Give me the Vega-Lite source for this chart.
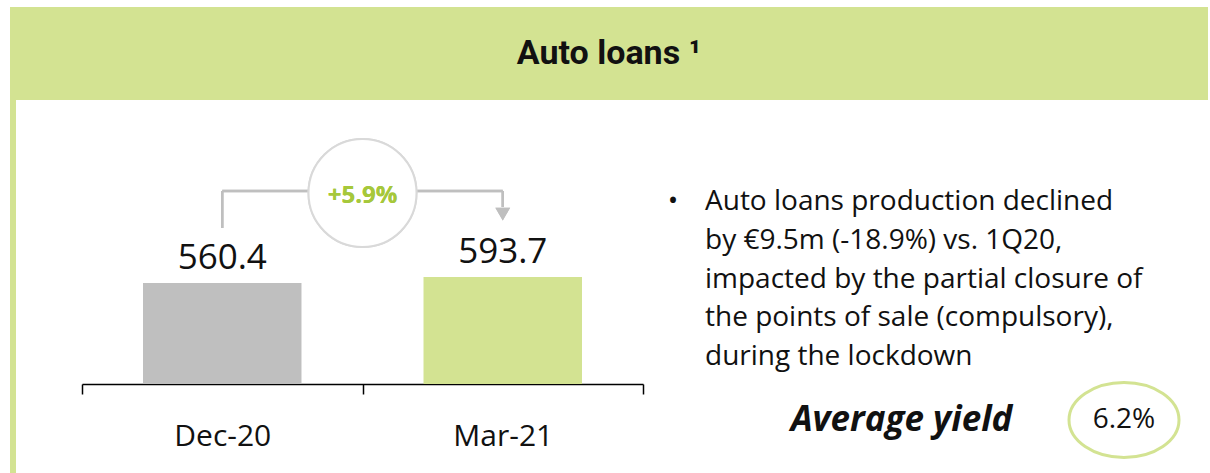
{
  "$schema": "https://vega.github.io/schema/vega-lite/v6.json",
  "background": "white",
  "padding": {"left": 10, "top": 7, "right": 0, "bottom": 0},
  "bounds": "flush",
  "spacing": 0,
  "config": {"view": {"stroke": null}, "font": "Open Sans", "text": {"color": "#111111"}},
  "vconcat": [
    {
      "width": 1198,
      "height": 93,
      "view": {"fill": "#d3e392", "stroke": null},
      "data": {"values": [{"title": "Auto loans ¹"}]},
      "mark": {"type": "text", "font": "Roboto", "fontWeight": "bold", "fontSize": 34, "baseline": "middle", "align": "center", "color": "#111111"},
      "encoding": {"text": {"field": "title"}}
    },
    {
      "hconcat": [
        {
          "width": 6,
          "height": 373,
          "view": {"fill": "#d3e392", "stroke": null},
          "data": {"values": [{}]},
          "mark": {"type": "text", "text": ""},
          "encoding": {}
        },
        {
          "hconcat": [
            {
              "width": 561,
              "height": 284,
              "data": {"values": [
                {"period": "Dec-20", "value": 560.4},
                {"period": "Mar-21", "value": 593.7}
              ]},
              "layer": [
                {
                  "mark": {"type": "bar", "width": {"band": 0.565}},
                  "encoding": {
                    "x": {
                      "field": "period", "type": "nominal", "sort": null,
                      "scale": {"paddingInner": 0, "paddingOuter": 0},
                      "axis": {
                        "title": null, "labelAngle": 0, "labelFontSize": 30, "labelColor": "#111111", "labelFont": "Open Sans",
                        "domainColor": "#000000", "domainWidth": 1.5, "tickColor": "#000000", "tickWidth": 1.5, "tickSize": 10,
                        "tickBand": "extent", "labelPadding": 51, "labelBaseline": "alphabetic", "grid": false
                      }
                    },
                    "y": {"field": "value", "type": "quantitative", "scale": {"domain": [0, 1576], "nice": false}, "axis": null},
                    "color": {"field": "period", "type": "nominal", "sort": null, "scale": {"range": ["#bfbfbf", "#d3e392"]}, "legend": null}
                  }
                },
                {
                  "mark": {"type": "text", "fontSize": 35, "baseline": "alphabetic", "align": "center", "dy": -14, "color": "#111111"},
                  "encoding": {
                    "x": {"field": "period", "type": "nominal", "sort": null},
                    "y": {"field": "value", "type": "quantitative", "scale": {"domain": [0, 1576], "nice": false}, "axis": null},
                    "text": {"field": "value", "type": "quantitative", "format": ".1f"}
                  }
                },
                {
                  "mark": {"type": "rule", "color": "#bfbfbf", "strokeWidth": 2.5},
                  "encoding": {
                    "x": {"datum": "Dec-20", "type": "nominal"},
                    "y": {"datum": 866, "type": "quantitative", "scale": {"domain": [0, 1576], "nice": false}, "axis": null},
                    "y2": {"datum": 1071}
                  }
                },
                {
                  "mark": {"type": "rule", "color": "#bfbfbf", "strokeWidth": 2.5},
                  "encoding": {
                    "x": {"datum": "Dec-20", "type": "nominal"},
                    "x2": {"datum": "Mar-21"},
                    "y": {"datum": 1071, "type": "quantitative", "scale": {"domain": [0, 1576], "nice": false}, "axis": null}
                  }
                },
                {
                  "mark": {"type": "rule", "color": "#bfbfbf", "strokeWidth": 2.5},
                  "encoding": {
                    "x": {"datum": "Mar-21", "type": "nominal"},
                    "y": {"datum": 1071, "type": "quantitative", "scale": {"domain": [0, 1576], "nice": false}, "axis": null},
                    "y2": {"datum": 982}
                  }
                },
                {
                  "mark": {"type": "point", "shape": "triangle-down", "size": 220, "filled": true, "color": "#bfbfbf", "opacity": 1},
                  "encoding": {
                    "x": {"datum": "Mar-21", "type": "nominal"},
                    "y": {"datum": 943, "type": "quantitative", "scale": {"domain": [0, 1576], "nice": false}, "axis": null}
                  }
                },
                {
                  "mark": {"type": "point", "shape": "circle", "size": 11664, "filled": false, "fill": "white", "stroke": "#d9d9d9", "strokeWidth": 2, "opacity": 1},
                  "encoding": {
                    "x": {"datum": "Mar-21", "type": "nominal", "bandPosition": 0},
                    "y": {"datum": 1060, "type": "quantitative", "scale": {"domain": [0, 1576], "nice": false}, "axis": null}
                  }
                },
                {
                  "mark": {"type": "text", "text": "+5.9%", "fontSize": 24, "fontWeight": "bold", "color": "#a6c83b", "baseline": "middle", "align": "center"},
                  "encoding": {
                    "x": {"datum": "Mar-21", "type": "nominal", "bandPosition": 0},
                    "y": {"datum": 1043, "type": "quantitative", "scale": {"domain": [0, 1576], "nice": false}, "axis": null}
                  }
                }
              ]
            },
            {
              "hconcat": [
                {
                  "width": 40,
                  "height": 220,
                  "data": {"values": [{}]},
                  "mark": {"type": "text", "text": "•", "fontSize": 28, "baseline": "alphabetic", "align": "center", "color": "#111111"},
                  "encoding": {}
                },
                {
                  "vconcat": [
                    {
                      "width": 24,
                      "height": 220,
                      "data": {"values": [{}]},
                      "mark": {
                        "type": "text",
                        "text": [
                          "Auto loans production declined",
                          "by €9.5m (-18.9%) vs. 1Q20,",
                          "impacted by the partial closure of",
                          "the points of sale (compulsory),",
                          "during the lockdown"
                        ],
                        "fontSize": 28, "baseline": "alphabetic", "align": "left", "lineHeight": 38.8, "color": "#111111"
                      },
                      "encoding": {}
                    },
                    {
                      "hconcat": [
                        {
                          "width": 417,
                          "height": 106,
                          "data": {"values": [{}]},
                          "mark": {"type": "text", "text": "Average yield", "fontSize": 35, "fontWeight": "bold", "fontStyle": "italic", "baseline": "middle", "align": "center", "color": "#111111"},
                          "encoding": {}
                        },
                        {
                          "width": 28,
                          "height": 106,
                          "data": {"values": [{"yield": "6.2%"}]},
                          "layer": [
                            {
                              "mark": {"type": "point", "shape": "M-1,0A1,0.68 0 1,1 1,0A1,0.68 0 1,1 -1,0Z", "size": 12100, "filled": false, "stroke": "#d3e392", "strokeWidth": 3, "opacity": 1},
                              "encoding": {}
                            },
                            {
                              "mark": {"type": "text", "fontSize": 28, "baseline": "middle", "align": "center", "color": "#111111"},
                              "encoding": {"text": {"field": "yield"}}
                            }
                          ]
                        }
                      ],
                      "spacing": 0,
                      "bounds": "flush"
                    }
                  ],
                  "spacing": 47,
                  "bounds": "flush"
                }
              ],
              "spacing": 0,
              "bounds": "flush"
            }
          ],
          "spacing": 10,
          "bounds": "flush"
        }
      ],
      "spacing": 66,
      "bounds": "flush"
    }
  ]
}
